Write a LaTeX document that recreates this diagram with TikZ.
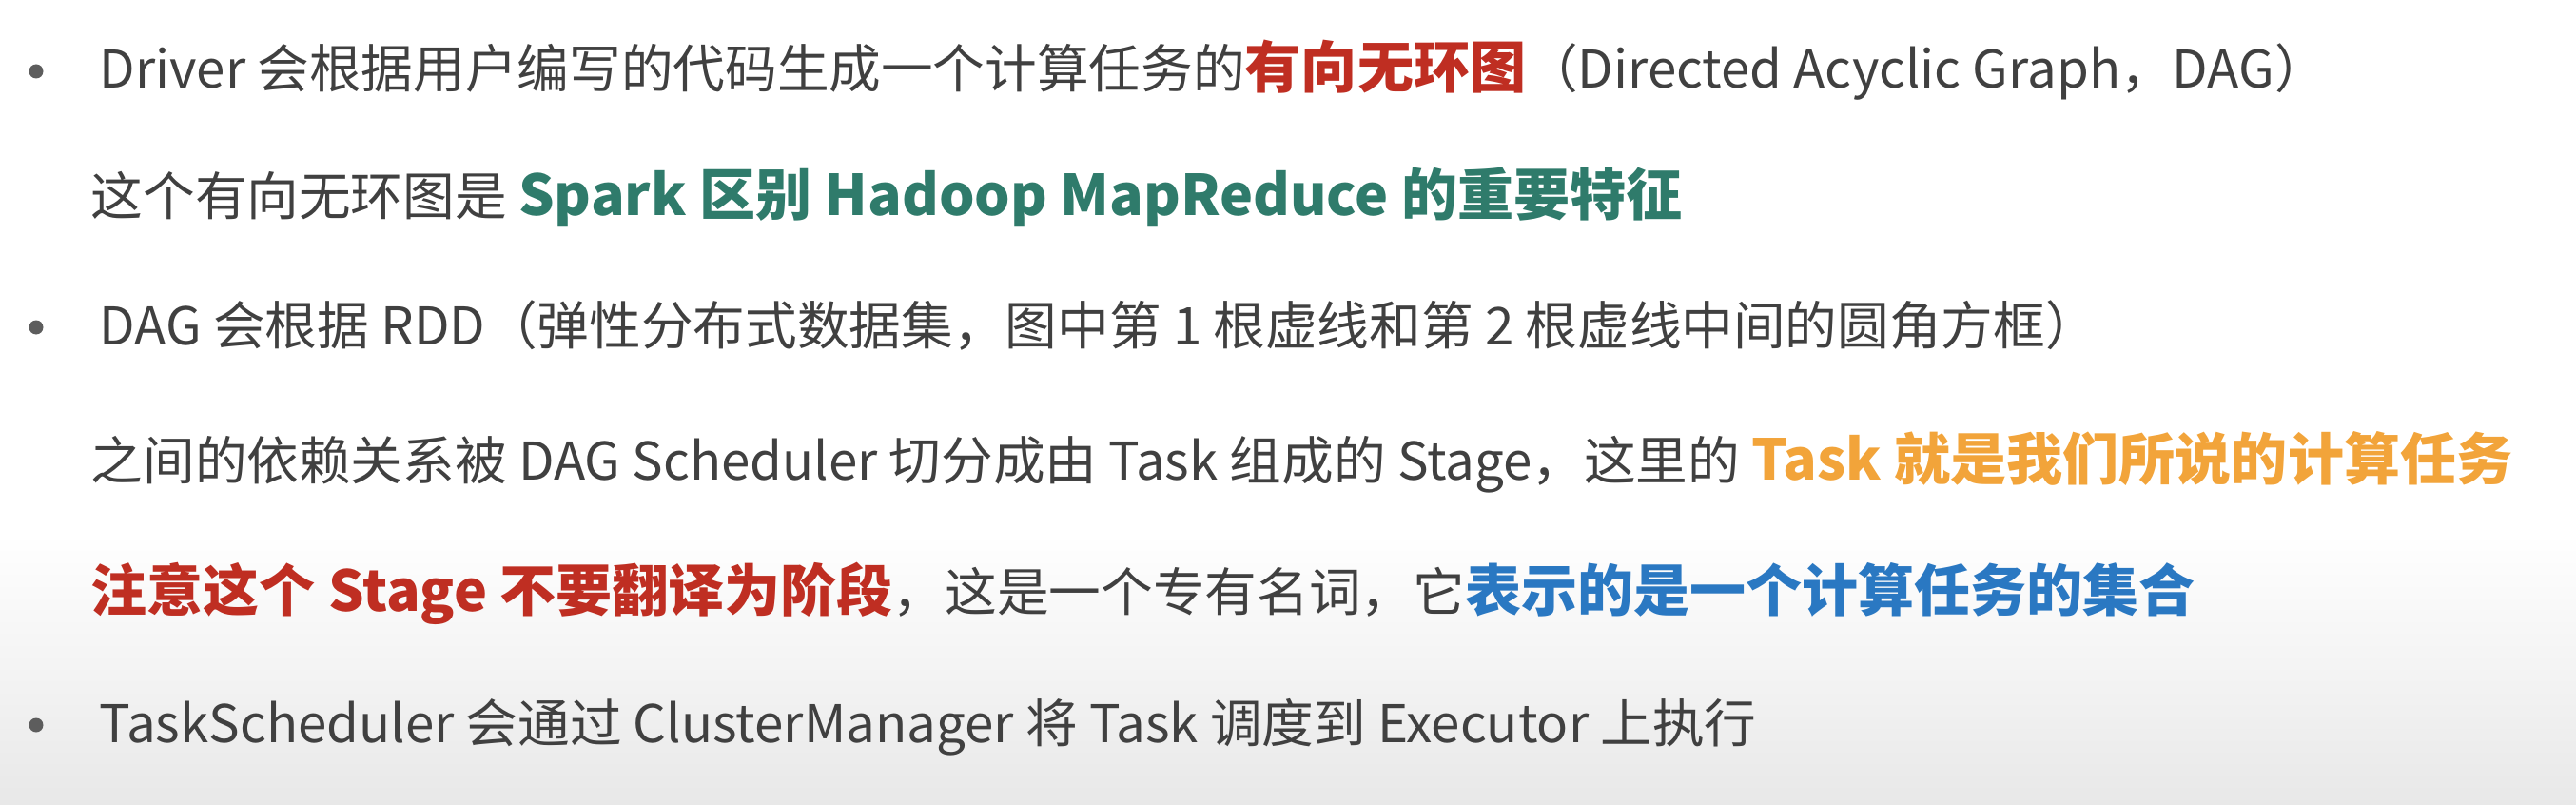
\documentclass[tikz,border=0pt]{standalone}
\usepackage{fontspec}
\setmainfont{Noto Sans CJK SC}
\definecolor{txtgray}{HTML}{404040}
\definecolor{hlred}{HTML}{BF2E22}
\definecolor{hlteal}{HTML}{2F7B6B}
\definecolor{hlorange}{HTML}{F2A43A}
\definecolor{hlblue}{HTML}{2A78C2}
\newcommand{\hilite}[2]{\textcolor{#1}{\fontsize{16.8pt}{18pt}\selectfont\bfseries #2}}
\begin{document}
\begin{tikzpicture}[line/.style={anchor=base west, inner sep=0pt, text=txtgray, font=\fontsize{15.55pt}{18pt}\selectfont},
            dot/.style={circle, fill=txtgray!85, inner sep=0pt, minimum size=0.15cm}]
            \useasboundingbox (0, 0) rectangle (27.08, -8.46);
            \fill[white] (0, 0) rectangle (27.08, -5.6);
            \shade[top color=white, bottom color=black!9] (0, -5.6) rectangle (27.08, -8.46);
            \node[dot] (b1) at (0.38, -0.75) {};
            \node[dot] (b2) at (0.38, -3.44) {};
            \node[dot] (b3) at (0.38, -7.62) {};
            \node[line] (l1) at (1.04, -0.93) {Driver 会根据用户编写的代码生成一个计算任务的\hilite{hlred}{有向无环图}（Directed Acyclic Graph，DAG）};
            \node[line] (l2) at (0.95, -2.27) {这个有向无环图是 \hilite{hlteal}{Spark 区别 Hadoop MapReduce 的重要特征}};
            \node[line] (l3) at (1.04, -3.62) {DAG 会根据 RDD（弹性分布式数据集，图中第 1 根虚线和第 2 根虚线中间的圆角方框）};
            \node[line] (l4) at (0.95, -5.04) {之间的依赖关系被 DAG Scheduler 切分成由 Task 组成的 Stage，这里的 \hilite{hlorange}{Task 就是我们所说的计算任务}};
            \node[line] (l5) at (0.95, -6.42) {\hilite{hlred}{注意这个 Stage 不要翻译为阶段}，这是一个专有名词，它\hilite{hlblue}{表示的是一个计算任务的集合}};
            \node[line] (l6) at (1.04, -7.80) {TaskScheduler 会通过 ClusterManager 将 Task 调度到 Executor 上执行};
        \end{tikzpicture}
\end{document}
